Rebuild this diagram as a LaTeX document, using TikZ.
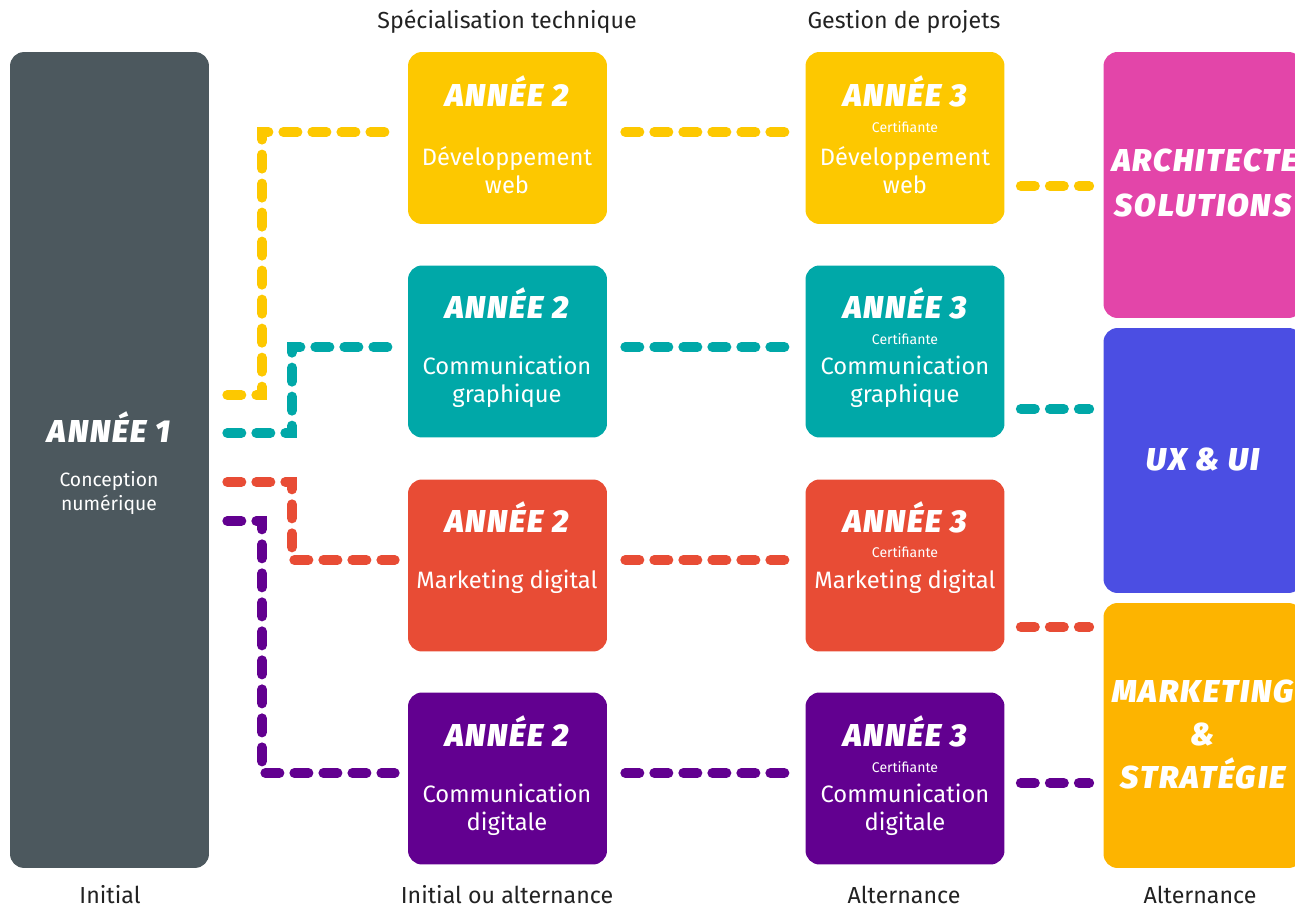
\documentclass[tikz,border=0pt]{standalone}
\usepackage{fontspec}
\setmainfont{Fira Sans}
\newfontfamily\heavyfont[LetterSpace=6]{Fira Sans Black Italic}
\usetikzlibrary{calc}
\definecolor{cgray}{HTML}{4C585E}
\definecolor{cyel}{HTML}{FDC800}
\definecolor{cteal}{HTML}{00A8A8}
\definecolor{cred}{HTML}{E84C35}
\definecolor{cpur}{HTML}{620090}
\definecolor{cpink}{HTML}{E345A9}
\definecolor{cblue}{HTML}{4B4EE3}
\definecolor{corg}{HTML}{FDB400}
\definecolor{ctxt}{HTML}{222222}
\begin{document}
\begin{tikzpicture}[x=0.02cm,y=-0.02cm,
  box/.style={rounded corners=0.28cm, inner sep=0pt, minimum width=3.98cm, draw=none},
  rowbox/.style={box, minimum height=3.44cm},
  head/.style={font=\fontsize{18}{20}\selectfont\heavyfont, text=white, inner sep=0pt, anchor=base},
  rhead/.style={font=\fontsize{18}{25}\selectfont\heavyfont, text=white, inner sep=0pt, align=center, anchor=base},
  body/.style={font=\fontsize{13.5}{16}\selectfont, text=white, align=center, inner sep=0pt},
  cert/.style={font=\fontsize{8}{9}\selectfont, text=white, inner sep=0pt},
  lab/.style={font=\fontsize{13.2}{14}\selectfont, text=ctxt, inner sep=0pt},
  link/.style={line width=5.69pt, line cap=round, dash pattern=on 7.97pt off 8.54pt}
]
\useasboundingbox (0,0) rectangle (1295,908);
\clip (0,0) rectangle (1295,908);

% column labels
\node[lab] (top2) at (507,22) {Spécialisation technique};
\node[lab] (top3) at (904,22) {Gestion de projets};
\node[lab] (bot1) at (110,895) {Initial};
\node[lab] (bot2) at (507,895) {Initial ou alternance};
\node[lab] (bot3) at (904,895) {Alternance};
\node[lab] (bot4) at (1200,895) {Alternance};

% year 1
\node[box, fill=cgray, minimum height=16.32cm] (L) at (109.5,460) {};
\node[head] (Lh) at (109,443) {ANNÉE 1};
\node[body, font=\fontsize{11}{13.7}\selectfont] (Lb) at (109,493) {Conception\\numérique};

% year 2
\node[rowbox, fill=cyel]  (A1) at (507.5,138) {};
\node[rowbox, fill=cteal] (A2) at (507.5,351.5) {};
\node[rowbox, fill=cred]  (A3) at (507.5,565.5) {};
\node[rowbox, fill=cpur]  (A4) at (507.5,778.5) {};
\node[head] (A1h) at (507,107) {ANNÉE 2};
\node[body] (A1b) at (507,170) {Développement\\web};
\node[head] (A2h) at (507,319) {ANNÉE 2};
\node[body] (A2b) at (507,382) {Communication\\graphique};
\node[head] (A3h) at (507,533) {ANNÉE 2};
\node[body] (A3b) at (507,582) {Marketing digital};
\node[head] (A4h) at (507,746) {ANNÉE 2};
\node[body] (A4b) at (507,810) {Communication\\digitale};

% year 3
\node[rowbox, fill=cyel]  (B1) at (905,138) {};
\node[rowbox, fill=cteal] (B2) at (905,351.5) {};
\node[rowbox, fill=cred]  (B3) at (905,565.5) {};
\node[rowbox, fill=cpur]  (B4) at (905,778.5) {};
\node[head] (B1h) at (905,107) {ANNÉE 3};
\node[cert] (B1c) at (905,127) {Certifiante};
\node[body] (B1b) at (905,170) {Développement\\web};
\node[head] (B2h) at (905,319) {ANNÉE 3};
\node[cert] (B2c) at (905,339) {Certifiante};
\node[body] (B2b) at (905,382) {Communication\\graphique};
\node[head] (B3h) at (905,533) {ANNÉE 3};
\node[cert] (B3c) at (905,552) {Certifiante};
\node[body] (B3b) at (905,582) {Marketing digital};
\node[head] (B4h) at (905,746) {ANNÉE 3};
\node[cert] (B4c) at (905,767) {Certifiante};
\node[body] (B4b) at (905,810) {Communication\\digitale};

% careers
\node[box, fill=cpink, minimum height=5.32cm] (C1) at (1203,185) {};
\node[box, fill=cblue, minimum height=5.30cm] (C2) at (1203,460.5) {};
\node[box, fill=corg,  minimum height=5.30cm] (C3) at (1203,735.5) {};
\node[rhead] (C1a) at (1205,172) {ARCHITECTE};
\node[rhead] (C1b) at (1203,217) {SOLUTIONS};
\node[rhead] (C2t) at (1203,471) {UX \& UI};
\node[rhead] (C3a) at (1203,702) {MARKETING};
\node[rhead] (C3b) at (1203,745) {\&};
\node[rhead] (C3c) at (1203,788) {STRATÉGIE};

% connectors year 1 -> year 2
\draw[link, cyel]  ($(L.east |- 0,395)+(18,0)$) -| (262,132) -- ($(A1.west |- 0,132)+(-13,0)$);
\draw[link, cteal] ($(L.east |- 0,433)+(18,0)$) -| (292,347) -- ($(A2.west |- 0,347)+(-13,0)$);
\draw[link, cred]  ($(L.east |- 0,482)+(18,0)$) -| (292,560) -- ($(A3.west |- 0,560)+(-13,0)$);
\draw[link, cpur]  ($(L.east |- 0,521)+(18,0)$) -| (262,773) -- ($(A4.west |- 0,773)+(-13,0)$);

% year 2 -> year 3
\draw[link, cyel]  ($(A1.east |- 0,132)+(18,0)$) -- ($(B1.west |- 0,132)+(-15,0)$);
\draw[link, cteal] ($(A2.east |- 0,347)+(18,0)$) -- ($(B2.west |- 0,347)+(-15,0)$);
\draw[link, cred]  ($(A3.east |- 0,560)+(18,0)$) -- ($(B3.west |- 0,560)+(-15,0)$);
\draw[link, cpur]  ($(A4.east |- 0,773)+(18,0)$) -- ($(B4.west |- 0,773)+(-15,0)$);

% year 3 -> careers
\draw[link, cyel]  ($(B1.east |- 0,186)+(16,0)$) -- ($(C1.west |- 0,186)+(-14,0)$);
\draw[link, cteal] ($(B2.east |- 0,409)+(16,0)$) -- ($(C2.west |- 0,409)+(-14,0)$);
\draw[link, cred]  ($(B3.east |- 0,627)+(16,0)$) -- ($(C3.west |- 0,627)+(-14,0)$);
\draw[link, cpur]  ($(B4.east |- 0,783)+(16,0)$) -- ($(C3.west |- 0,783)+(-14,0)$);
\end{tikzpicture}
\end{document}
